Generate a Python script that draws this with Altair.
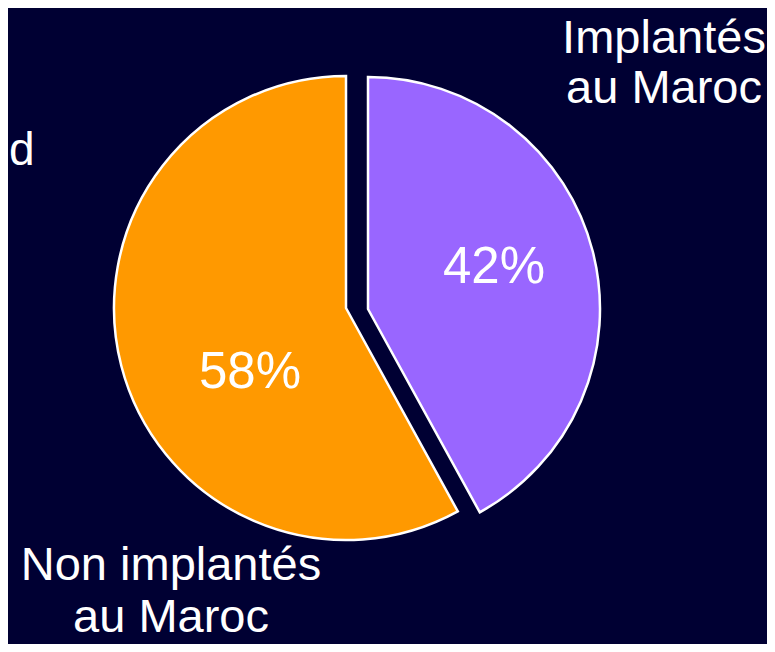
import altair as alt
import pandas as pd

# ---- data ----
categories = ["Implantés au Maroc", "Non implantés au Maroc"]
values = [42, 58]
colors = ["#9966FF", "#FF9900"]
side_text = ["d"]

ends = list(pd.Series(values).cumsum())
starts = [0] + ends[:-1]
df = pd.DataFrame({"category": categories, "value": values,
                   "start": starts, "end": ends})
side_df = pd.DataFrame({"t": side_text})

W, H = 759, 636
R = 232
FONT = "Liberation Sans"

theta_scale = alt.Scale(domain=[0, sum(values)], range=[0, 6.283185307179586])
color_scale = alt.Scale(domain=categories, range=colors)

arc_base = alt.Chart(df).mark_arc(radius=R, stroke="white", strokeWidth=2.5).encode(
    theta=alt.Theta("start:Q", scale=theta_scale),
    theta2="end:Q",
    color=alt.Color("category:N", scale=color_scale, legend=None),
)

arc_purple = arc_base.transform_filter(alt.datum.category == categories[0]).encode(
    x=alt.value(360), y=alt.value(301))
arc_orange = arc_base.transform_filter(alt.datum.category == categories[1]).encode(
    x=alt.value(338), y=alt.value(300))

pct = alt.Chart(df).transform_calculate(
    label="datum.value + '%'"
).mark_text(font=FONT, fontSize=51, color="white", align="center", baseline="alphabetic")

pct_purple = pct.transform_filter(alt.datum.category == categories[0]).encode(
    text="label:N", x=alt.value(486), y=alt.value(275))
pct_orange = pct.transform_filter(alt.datum.category == categories[1]).encode(
    text="label:N", x=alt.value(242), y=alt.value(380))

cat = alt.Chart(df).transform_calculate(
    label="replace(datum.category, ' au ', '\\nau ')"
)
cat_top = cat.transform_filter(alt.datum.category == categories[0]).mark_text(
    font=FONT, fontSize=47, color="white", align="center", baseline="alphabetic",
    lineBreak="\n", lineHeight=50
).encode(text="label:N", x=alt.value(656), y=alt.value(45))
cat_bottom = cat.transform_filter(alt.datum.category == categories[1]).mark_text(
    font=FONT, fontSize=47, color="white", align="center", baseline="alphabetic",
    lineBreak="\n", lineHeight=52
).encode(text="label:N", x=alt.value(163), y=alt.value(572))

side = alt.Chart(side_df).mark_text(
    font=FONT, fontSize=46, color="white", align="left", baseline="alphabetic"
).encode(text="t:N", x=alt.value(1), y=alt.value(157))

chart = alt.layer(
    arc_orange, arc_purple, pct_purple, pct_orange, cat_top, cat_bottom, side
).properties(
    width=W, height=H, padding=0, autosize=alt.AutoSizeParams(type="none"),
    background="#000033"
).configure_view(stroke=None)

chart.save("out.html", embed_options={"renderer": "svg", "actions": False})
